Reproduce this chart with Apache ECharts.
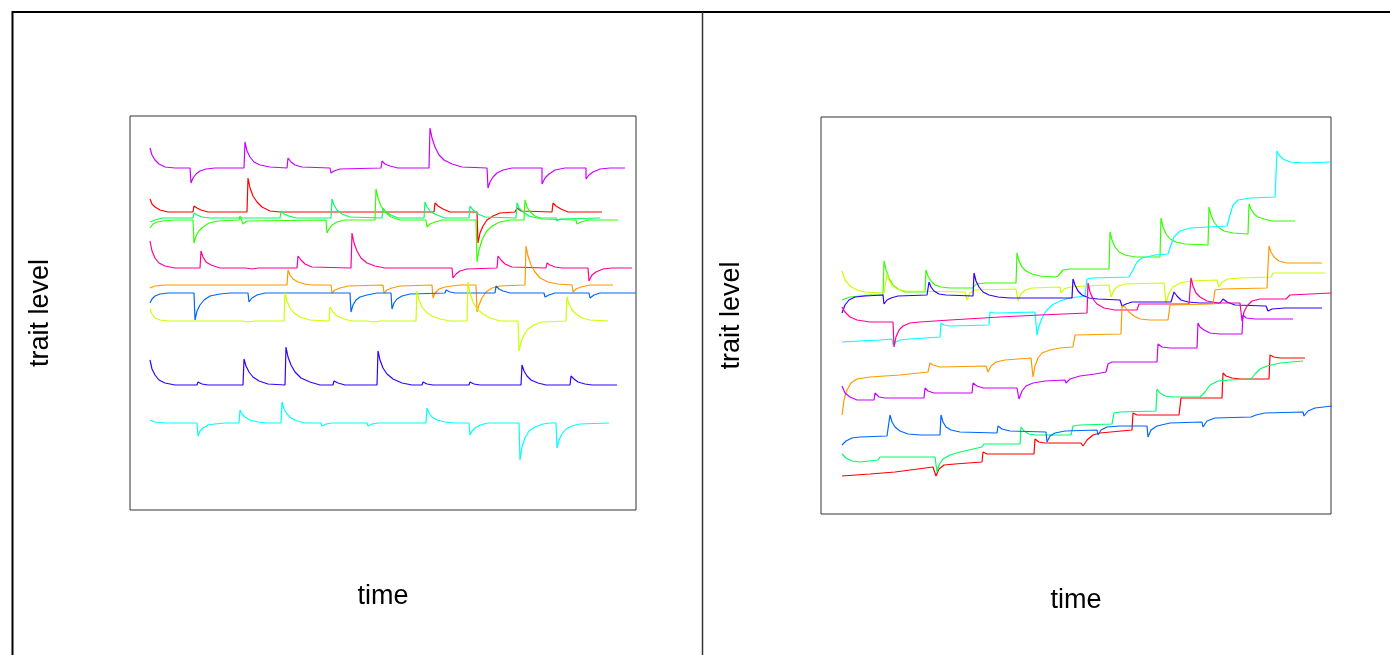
<!DOCTYPE html>
<html>
<head>
<meta charset="utf-8">
<script src="https://cdn.jsdelivr.net/npm/echarts@6/dist/echarts.min.js"></script>
<style>
html,body{margin:0;padding:0;background:#fff;}
#chart{width:1390px;height:655px;}
</style>
</head>
<body>
<div id="chart"></div>
<script>
// ---- Left panel series: [time, trait level] readings ----
const L_purple = [[150,148],[152,155],[155,160],[159,164],[165,167],[175,168],[190,168],[191,183],[193,178],[196,174],[200,171],[206,169],[215,168],[244,168],[245,142],[247,151],[250,157],[254,162],[260,165],[270,167],[287,168],[288,158],[291,162],[295,165],[302,167],[330,168],[331,173],[334,171],[340,169],[381,168],[382,161],[385,164],[390,166],[398,168],[429,168],[430,128],[432,138],[435,147],[439,155],[444,160],[452,164],[462,167],[487,168],[488,188],[490,182],[493,177],[497,173],[503,170],[512,168],[542,168],[542,184],[545,178],[549,174],[555,170],[565,168],[586,168],[586,179],[589,175],[593,172],[600,169],[610,168],[625,168]];
const L_red = [[150,199],[152,204],[155,207],[160,210],[168,212],[193,212],[194,206],[197,208],[201,210],[208,212],[247,212],[248,178],[250,188],[253,196],[257,202],[262,207],[270,211],[280,212],[434,212],[435,203],[438,206],[443,209],[450,212],[477,212],[478,243],[480,233],[483,226],[487,220],[493,216],[500,213],[515,212],[517,208],[521,211],[552,212],[553,203],[556,206],[561,209],[568,212],[602,212]];
const L_green = [[150,228],[153,224],[157,222],[163,221],[175,220],[193,220],[194,243],[196,236],[199,231],[203,227],[209,223],[218,221],[239,220],[240,216],[243,224],[247,221],[326,220],[327,233],[329,229],[332,225],[337,222],[345,220],[375,220],[376,189],[378,198],[381,206],[385,212],[391,217],[400,220],[426,220],[427,227],[430,224],[435,222],[442,220],[476,220],[477,262],[479,250],[482,240],[486,232],[492,226],[500,222],[510,220],[524,220],[525,200],[527,207],[530,212],[535,216],[542,219],[576,220],[577,224],[581,222],[588,220],[618,220]];
const L_spring = [[150,222],[155,220],[162,218],[193,218],[194,213],[197,215],[202,217],[210,218],[237,218],[238,216],[241,218],[280,218],[281,211],[284,214],[289,216],[296,218],[331,218],[332,199],[334,205],[337,210],[342,214],[350,217],[382,218],[383,208],[386,212],[391,215],[398,218],[424,218],[425,202],[427,207],[431,212],[437,215],[445,218],[469,218],[470,206],[473,210],[478,214],[485,217],[516,218],[517,203],[519,208],[523,212],[529,216],[537,218],[556,218],[557,221],[560,219],[600,218]];
const L_pink = [[150,241],[152,251],[155,258],[159,263],[165,266],[175,268],[200,268],[201,251],[203,257],[206,262],[211,265],[220,268],[246,268],[247,270],[252,269],[258,268],[297,268],[298,256],[301,260],[305,264],[312,267],[351,268],[352,233],[354,243],[357,251],[361,258],[367,263],[375,266],[385,268],[407,268],[408,270],[413,268],[452,268],[453,278],[456,274],[460,271],[467,269],[497,268],[498,256],[501,260],[505,264],[512,267],[546,268],[547,263],[550,265],[555,267],[562,268],[588,268],[589,281],[592,275],[596,272],[603,269],[612,268],[632,268]];
const L_orange = [[150,288],[155,286],[165,285],[198,285],[200,284],[203,285],[243,285],[287,285],[288,270],[290,275],[293,279],[298,282],[305,284],[312,285],[331,285],[332,293],[335,290],[340,288],[348,286],[383,285],[384,293],[387,290],[392,288],[400,286],[432,285],[433,298],[435,293],[439,289],[445,287],[452,286],[460,285],[470,285],[476,285],[477,312],[479,305],[482,298],[486,292],[492,288],[500,286],[525,285],[526,246],[528,256],[531,265],[535,272],[540,278],[548,282],[558,284],[572,285],[573,292],[576,289],[581,287],[590,285],[613,285]];
const L_blue = [[150,303],[152,299],[155,296],[160,294],[168,293],[194,293],[195,320],[197,311],[200,305],[204,300],[210,296],[220,294],[230,293],[248,293],[249,302],[252,298],[257,295],[265,293],[350,293],[351,312],[353,305],[356,300],[360,297],[367,295],[377,293],[391,293],[392,309],[394,303],[397,299],[402,296],[410,294],[445,293],[446,290],[450,292],[455,293],[495,293],[496,286],[499,289],[503,291],[510,293],[544,293],[545,297],[549,295],[555,293],[589,293],[590,298],[594,295],[600,293],[636,293]];
const L_yellow = [[150,309],[152,314],[155,318],[160,320],[168,321],[242,321],[243,323],[248,322],[255,321],[284,321],[285,293],[287,301],[290,308],[294,313],[300,317],[310,320],[329,321],[330,307],[333,312],[337,316],[344,319],[352,321],[367,321],[368,323],[373,322],[380,321],[416,321],[417,291],[419,300],[422,307],[426,312],[432,316],[440,319],[450,321],[467,321],[468,282],[470,293],[473,302],[477,309],[483,314],[490,318],[500,321],[518,321],[519,351],[521,342],[524,335],[528,329],[534,325],[542,322],[566,321],[567,297],[569,304],[572,310],[576,314],[582,318],[590,320],[608,321]];
const L_indigo = [[150,360],[152,369],[155,375],[159,380],[165,383],[175,385],[197,385],[198,382],[202,384],[208,385],[243,385],[244,359],[246,366],[249,372],[253,377],[259,381],[268,384],[285,385],[286,347],[288,357],[291,365],[295,372],[301,378],[310,382],[320,385],[333,385],[334,381],[338,383],[345,385],[377,385],[378,351],[380,360],[383,368],[387,374],[393,379],[402,383],[412,385],[422,385],[423,382],[427,384],[433,385],[469,385],[470,382],[474,384],[480,385],[521,385],[522,365],[524,371],[527,376],[531,380],[538,383],[546,385],[570,385],[571,376],[574,379],[578,382],[585,384],[592,385],[617,385]];
const L_cyan = [[150,420],[155,422],[165,423],[197,423],[198,436],[200,431],[203,428],[208,425],[215,424],[225,423],[239,423],[240,410],[242,414],[245,417],[250,420],[258,422],[267,423],[281,423],[282,402],[284,409],[287,414],[291,418],[297,421],[305,423],[321,423],[322,426],[326,424],[332,423],[367,423],[368,426],[372,424],[378,423],[426,423],[427,408],[429,413],[432,417],[437,420],[445,422],[455,423],[469,423],[470,435],[472,431],[475,428],[480,425],[488,423],[519,423],[520,460],[522,447],[525,438],[529,431],[535,427],[543,424],[550,423],[556,423],[557,448],[559,440],[562,434],[566,429],[572,426],[580,424],[609,423]];

// ---- Right panel series ----
const R_green = [[842,300],[850,297],[860,296],[870,295],[883,295],[884,261],[886,270],[889,278],[893,285],[898,289],[905,292],[925,292],[926,270],[928,276],[931,281],[935,285],[941,287],[950,288],[973,288],[976,284],[985,283],[1016,283],[1017,253],[1019,261],[1022,267],[1026,271],[1032,274],[1040,276],[1055,277],[1058,276],[1063,270],[1070,269],[1109,269],[1110,232],[1112,240],[1115,247],[1119,252],[1125,255],[1135,257],[1160,257],[1161,218],[1163,227],[1166,234],[1170,239],[1176,242],[1185,244],[1208,245],[1209,207],[1211,215],[1214,222],[1218,227],[1224,231],[1233,233],[1248,234],[1249,204],[1251,209],[1254,214],[1258,217],[1264,219],[1272,221],[1295,221]];
const R_cyan = [[842,342],[860,341],[880,340],[892,339],[893,345],[896,342],[900,340],[910,339],[940,337],[941,323],[944,325],[950,326],[989,325],[990,312],[994,313],[1000,313],[1035,312],[1037,335],[1039,326],[1042,318],[1046,311],[1052,305],[1060,301],[1070,298],[1085,296],[1087,279],[1092,278],[1129,277],[1133,270],[1137,262],[1142,258],[1155,255],[1168,254],[1171,245],[1174,237],[1180,231],[1190,228],[1227,226],[1230,215],[1233,205],[1238,200],[1250,198],[1275,197],[1277,151],[1279,155],[1283,159],[1290,162],[1305,163],[1331,162]];
const R_yellow = [[842,271],[845,280],[850,286],[857,290],[865,292],[884,293],[887,274],[889,280],[892,285],[897,289],[905,291],[965,292],[967,300],[970,293],[975,290],[1016,289],[1018,301],[1021,294],[1025,290],[1032,288],[1060,287],[1061,293],[1064,289],[1070,287],[1085,286],[1109,285],[1111,297],[1114,290],[1118,286],[1125,284],[1164,283],[1166,303],[1169,293],[1173,287],[1180,283],[1190,281],[1217,280],[1219,287],[1222,282],[1228,279],[1240,278],[1271,277],[1273,273],[1325,273]];
const R_indigo = [[842,313],[845,305],[849,300],[855,297],[865,296],[883,295],[884,304],[887,300],[891,298],[898,296],[927,295],[929,282],[931,287],[934,291],[939,294],[946,295],[973,296],[974,273],[976,281],[979,287],[983,292],[989,295],[998,297],[1010,298],[1072,298],[1073,279],[1075,285],[1078,291],[1082,295],[1089,298],[1098,299],[1120,300],[1122,306],[1126,304],[1132,302],[1171,302],[1174,292],[1177,296],[1181,300],[1188,302],[1200,303],[1220,303],[1223,299],[1227,302],[1235,305],[1266,306],[1268,311],[1272,309],[1285,308],[1322,308]];
const R_pink = [[842,307],[845,312],[850,317],[857,320],[870,322],[893,322],[894,347],[896,337],[899,330],[903,326],[910,323],[920,322],[950,320],[1000,317],[1040,315],[1087,313],[1088,283],[1090,292],[1093,299],[1097,304],[1104,308],[1115,310],[1137,310],[1139,304],[1189,304],[1191,278],[1193,286],[1196,293],[1200,297],[1207,301],[1218,303],[1240,303],[1242,321],[1244,312],[1247,306],[1252,301],[1260,299],[1286,299],[1290,295],[1331,293]];
const R_orange = [[842,415],[844,400],[847,390],[851,383],[857,379],[870,377],[900,375],[928,372],[930,363],[933,365],[940,367],[986,366],[988,372],[991,366],[996,362],[1005,360],[1031,358],[1033,377],[1035,366],[1038,358],[1042,353],[1050,350],[1060,348],[1073,347],[1075,335],[1121,334],[1122,306],[1125,307],[1129,312],[1134,316],[1140,319],[1150,320],[1168,320],[1170,305],[1213,304],[1215,290],[1222,289],[1267,288],[1269,246],[1271,252],[1274,257],[1279,261],[1287,263],[1300,263],[1322,263]];
const R_purple = [[842,386],[845,393],[850,397],[857,400],[874,400],[875,393],[879,397],[885,398],[924,398],[925,388],[928,391],[934,393],[972,393],[973,383],[977,386],[983,388],[1017,388],[1019,399],[1022,391],[1026,386],[1033,383],[1045,381],[1065,380],[1066,383],[1070,379],[1080,376],[1095,374],[1106,372],[1108,364],[1112,362],[1157,362],[1158,344],[1162,347],[1170,348],[1197,348],[1198,323],[1200,327],[1204,330],[1210,333],[1220,334],[1242,334],[1243,315],[1246,318],[1255,319],[1293,319]];
const R_red = [[842,476],[870,474],[895,472],[897,470],[933,467],[936,476],[939,469],[944,465],[955,464],[982,462],[983,452],[987,454],[1034,454],[1035,439],[1039,442],[1045,443],[1081,443],[1083,446],[1087,440],[1093,435],[1100,433],[1132,430],[1133,413],[1137,415],[1179,415],[1181,398],[1222,398],[1223,373],[1226,376],[1232,378],[1240,379],[1269,379],[1270,355],[1274,357],[1280,358],[1305,358]];
const R_spring = [[842,454],[846,458],[852,461],[860,462],[878,460],[880,457],[935,457],[937,472],[939,465],[943,459],[950,455],[960,452],[982,447],[984,444],[1020,444],[1021,427],[1024,431],[1029,434],[1036,435],[1071,435],[1073,426],[1080,425],[1112,424],[1114,413],[1120,412],[1156,411],[1157,389],[1160,393],[1165,396],[1172,397],[1200,397],[1205,392],[1210,385],[1218,381],[1230,380],[1251,379],[1255,374],[1260,369],[1267,366],[1280,363],[1303,361]];
const R_blue = [[842,445],[846,441],[852,438],[860,437],[887,436],[890,415],[892,422],[895,427],[900,431],[908,434],[920,435],[940,435],[941,415],[943,422],[946,427],[951,430],[960,432],[997,433],[998,426],[1002,429],[1010,431],[1046,432],[1047,442],[1050,436],[1055,433],[1065,431],[1097,430],[1098,435],[1101,430],[1107,427],[1120,426],[1147,426],[1148,437],[1151,430],[1157,426],[1170,423],[1202,422],[1203,427],[1207,421],[1215,418],[1251,417],[1252,419],[1256,415],[1265,413],[1303,412],[1304,416],[1308,411],[1315,408],[1332,406]];

const axisTitles = { x: 'time', y: 'trait level' };
const palette = { red:'#FF0000', orange:'#FF9900', yellow:'#CCFF00', green:'#33FF00', spring:'#00FF66', cyan:'#00FFFF', blue:'#0066FF', indigo:'#3300FF', purple:'#CC00FF', pink:'#FF0099' };

const leftSeries = [
  ['purple', L_purple], ['red', L_red], ['spring', L_spring], ['green', L_green], ['pink', L_pink],
  ['orange', L_orange], ['blue', L_blue], ['yellow', L_yellow], ['indigo', L_indigo], ['cyan', L_cyan]
];
const rightSeries = [
  ['green', R_green], ['cyan', R_cyan], ['yellow', R_yellow], ['indigo', R_indigo], ['pink', R_pink],
  ['orange', R_orange], ['purple', R_purple], ['red', R_red], ['spring', R_spring], ['blue', R_blue]
];

const FONT = 'Liberation Sans, Arial, sans-serif';

function mkX(idx, min, max) {
  return {
    type: 'value', gridIndex: idx, min: min, max: max,
    axisLine: { show: false }, axisTick: { show: false }, axisLabel: { show: false }, splitLine: { show: false },
    name: axisTitles.x, nameLocation: 'middle', nameGap: 73,
    nameTextStyle: { fontFamily: FONT, fontSize: 27, color: '#000' }
  };
}
function mkY(idx, min, max) {
  return {
    type: 'value', gridIndex: idx, min: min, max: max, inverse: true,
    axisLine: { show: false }, axisTick: { show: false }, axisLabel: { show: false }, splitLine: { show: false },
    name: axisTitles.y, nameLocation: 'middle', nameGap: 76, nameRotate: 90,
    nameTextStyle: { fontFamily: FONT, fontSize: 27, color: '#000' }
  };
}

const series = [];
leftSeries.forEach(function (s) {
  series.push({ type: 'line', xAxisIndex: 0, yAxisIndex: 0, data: s[1], showSymbol: false, symbol: 'none',
    lineStyle: { color: palette[s[0]], width: 1.2 }, silent: true });
});
rightSeries.forEach(function (s) {
  series.push({ type: 'line', xAxisIndex: 1, yAxisIndex: 1, data: s[1], showSymbol: false, symbol: 'none',
    lineStyle: { color: palette[s[0]], width: 1.2 }, silent: true });
});

const chart = echarts.init(document.getElementById('chart'), null, { renderer: 'canvas' });
chart.setOption({
  animation: false,
  backgroundColor: '#fff',
  grid: [
    { left: 130, top: 116, width: 506, height: 394, show: true, borderColor: '#333', borderWidth: 1, containLabel: false },
    { left: 821, top: 117, width: 510, height: 397, show: true, borderColor: '#333', borderWidth: 1, containLabel: false }
  ],
  xAxis: [mkX(0, 130, 636), mkX(1, 821, 1331)],
  yAxis: [mkY(0, 116, 510), mkY(1, 117, 514)],
  graphic: [
    { type: 'line', shape: { x1: 12, y1: 12, x2: 1390, y2: 12 }, style: { stroke: '#000', lineWidth: 2 } },
    { type: 'line', shape: { x1: 12.5, y1: 11, x2: 12.5, y2: 655 }, style: { stroke: '#000', lineWidth: 2 } },
    { type: 'line', shape: { x1: 702.5, y1: 12, x2: 702.5, y2: 655 }, style: { stroke: '#333', lineWidth: 1.5 } }
  ],
  series: series
});
</script>
</body>
</html>
